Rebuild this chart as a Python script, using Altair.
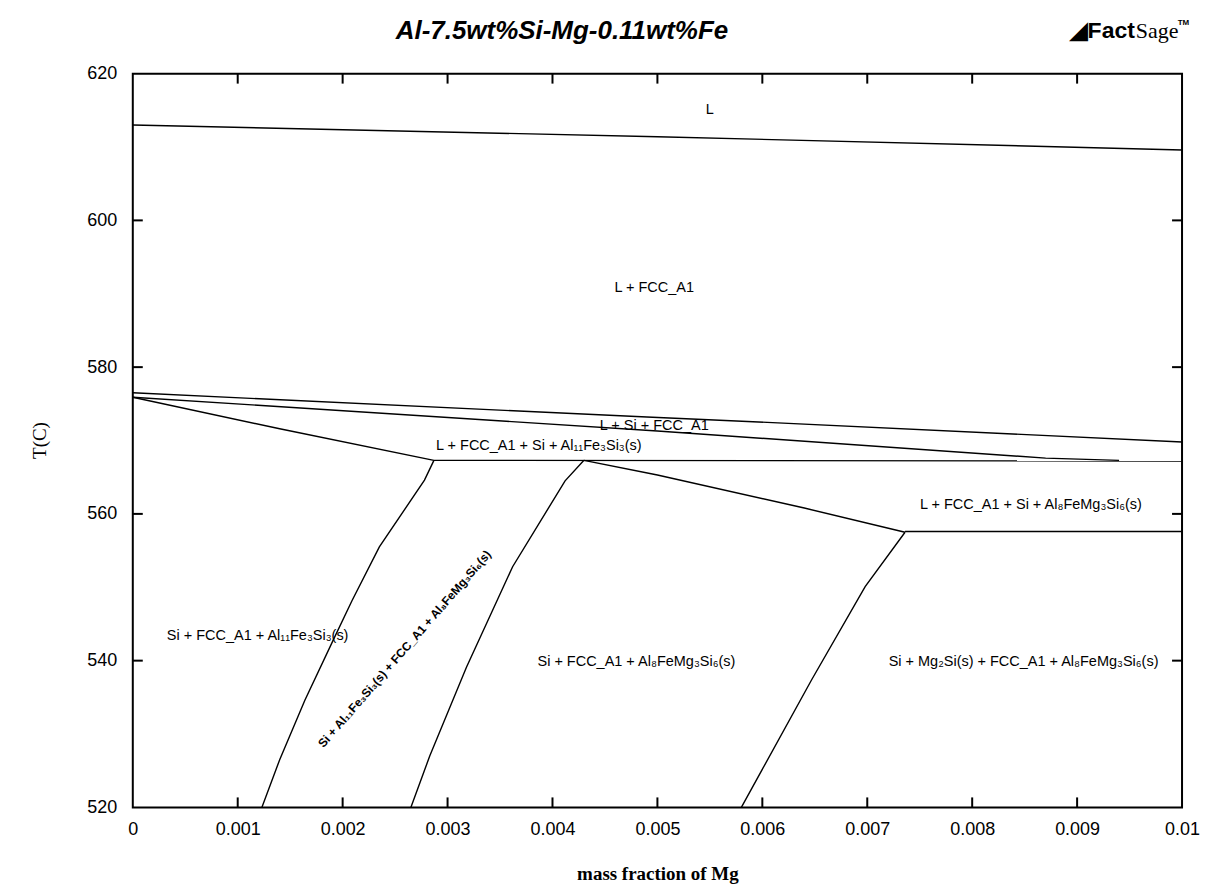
import altair as alt
import pandas as pd

# ---- boundary lines (mass fraction of Mg, T in C) ----
liq_x = [0.0, 0.005, 0.01]
liq_t = [613.0, 611.4, 609.6]

si_x = [0.0, 0.0049, 0.0057, 0.01]
si_t = [576.5, 573.2, 572.7, 569.8]

b2_x = [0.0, 0.005, 0.0087, 0.0094]
b2_t = [575.9, 571.3, 567.6, 567.3]

b3_x = [0.0, 0.0014, 0.00287]
b3_t = [575.9, 571.6, 567.3]

e1_x = [0.00287, 0.01]
e1_t = [567.3, 567.2]

b4_x = [0.0043, 0.005, 0.0064, 0.00736]
b4_t = [567.3, 565.3, 560.8, 557.5]

e2_x = [0.00736, 0.01]
e2_t = [557.6, 557.6]

c1_x = [0.00287, 0.00278, 0.00235, 0.00209, 0.00191, 0.00164, 0.0014, 0.00123]
c1_t = [567.3, 564.6, 555.5, 548.2, 542.8, 534.6, 526.5, 520.0]

c2_x = [0.0043, 0.00412, 0.00362, 0.00318, 0.00283, 0.00265]
c2_t = [567.3, 564.5, 552.8, 539.1, 527.0, 520.0]

c3_x = [0.00736, 0.00698, 0.00647, 0.0058]
c3_t = [557.5, 550.1, 537.4, 520.0]

# ---- region labels ----
lab_text = [
    "L",
    "L + FCC_A1",
    "L + Si + FCC_A1",
    "L + FCC_A1 + Si + Al\u2081\u2081Fe\u2083Si\u2083(s)",
    "L + FCC_A1 + Si + Al\u2088FeMg\u2083Si\u2086(s)",
    "Si + FCC_A1 + Al\u2081\u2081Fe\u2083Si\u2083(s)",
    "Si + FCC_A1 + Al\u2088FeMg\u2083Si\u2086(s)",
    "Si + Mg\u2082Si(s) + FCC_A1 + Al\u2088FeMg\u2083Si\u2086(s)",
]
lab_x = [0.0055, 0.00497, 0.00497, 0.00387, 0.00856, 0.00119, 0.0048, 0.00849]
lab_t = [615.0, 590.8, 572.0, 569.2, 561.2, 543.4, 539.8, 539.8]

rot_text = ["Si + Al\u2081\u2081Fe\u2083Si\u2083(s) + FCC_A1 + Al\u2088FeMg\u2083Si\u2086(s)"]
rot_x = [0.00259]
rot_t = [541.6]

# ---- title and logo ----
title_text = ["Al-7.5wt%Si-Mg-0.11wt%Fe"]
title_x = [0.00409]
title_t = [625.8]
logo_x = [0.00955]
logo_t = [625.8]

# ---- axes ----
x_ticks = [0.0, 0.001, 0.002, 0.003, 0.004, 0.005, 0.006, 0.007, 0.008, 0.009, 0.01]
y_ticks = [520, 540, 560, 580, 600, 620]
x_inner = x_ticks[1:-1]
y_inner = y_ticks[1:-1]

series = {
    "liquidus": (liq_x, liq_t), "si": (si_x, si_t), "b2": (b2_x, b2_t),
    "b3": (b3_x, b3_t), "e1": (e1_x, e1_t), "b4": (b4_x, b4_t),
    "e2": (e2_x, e2_t), "c1": (c1_x, c1_t), "c2": (c2_x, c2_t), "c3": (c3_x, c3_t),
}
rows = []
for name, (xs_, ts_) in series.items():
    for i, (xv, tv) in enumerate(zip(xs_, ts_)):
        rows.append({"series": name, "i": i, "x": xv, "T": tv})
df = pd.DataFrame(rows)
labels = pd.DataFrame({"label": lab_text, "x": lab_x, "T": lab_t})
rot = pd.DataFrame({"label": rot_text, "x": rot_x, "T": rot_t})
tdf = pd.DataFrame({"label": title_text, "x": title_x, "T": title_t})
logo_df = pd.DataFrame({"x": logo_x, "T": logo_t})
xt = pd.DataFrame({"x": x_inner})
yt = pd.DataFrame({"T": y_inner})

W, H = 1051, 735
xs = alt.Scale(domain=[0, 0.01], nice=False, zero=False)
ys = alt.Scale(domain=[520, 620], nice=False, zero=False)
SANS = "Liberation Sans"
SERIF = "Liberation Serif"

X = alt.X("x:Q", scale=xs, axis=alt.Axis(
    values=x_ticks, format="~g", ticks=False, domain=False, grid=False,
    labelFont=SANS, labelFontSize=18, labelColor="black", labelPadding=13,
    labelFlush=False,
    title="mass fraction of Mg", titleFont=SERIF, titleFontSize=19,
    titleFontWeight="bold", titleColor="black", titleY=66,
    titleBaseline="middle"))
Y = alt.Y("T:Q", scale=ys, axis=alt.Axis(
    values=y_ticks, ticks=False, domain=False, grid=False,
    labelFont=SANS, labelFontSize=18, labelColor="black", labelPadding=16,
    title="T(C)", titleFont=SERIF, titleFontSize=19, titleFontWeight="normal",
    titleColor="black", titleX=-93, titleY=367, titleAlign="center",
    titleBaseline="middle"))

lines = alt.Chart(df).mark_line(color="black", strokeWidth=1.4).encode(
    x=X, y=Y, detail="series:N", order="i:Q")

text = alt.Chart(labels).mark_text(font=SANS, fontSize=14.5, color="black").encode(
    x=X, y=Y, text="label:N")

rtext = alt.Chart(rot).mark_text(font=SANS, fontSize=12, fontWeight="bold",
                                  angle=311, color="black").encode(
    x=X, y=Y, text="label:N")

title = alt.Chart(tdf).mark_text(font=SANS, fontSize=26, fontStyle="italic",
                                  fontWeight="bold", color="black",
                                  baseline="middle").encode(
    x=X, y=Y, text="label:N")

tick_bottom = alt.Chart(xt).mark_rule(color="black", strokeWidth=2).encode(
    x=X, y=alt.value(H), y2=alt.value(H - 10))
tick_top = alt.Chart(xt).mark_rule(color="black", strokeWidth=2).encode(
    x=X, y=alt.value(0), y2=alt.value(10))
tick_left = alt.Chart(yt).mark_rule(color="black", strokeWidth=2).encode(
    y=Y, x=alt.value(0), x2=alt.value(10))
tick_right = alt.Chart(yt).mark_rule(color="black", strokeWidth=2).encode(
    y=Y, x=alt.value(W), x2=alt.value(W - 10))

logo1 = alt.Chart(logo_df).mark_text(font=SANS, fontSize=23, fontWeight="bold",
                                      align="right", baseline="middle", color="black").encode(
    x=X, y=Y, text=alt.value("\u25E2Fact"))
logo2 = alt.Chart(logo_df).mark_text(font=SERIF, fontSize=22, align="left",
                                      baseline="middle", color="black", dx=1).encode(
    x=X, y=Y, text=alt.value("Sage"))
logo3 = alt.Chart(logo_df).mark_text(font=SANS, fontSize=8, fontWeight="bold",
                                      align="left", baseline="middle", color="black",
                                      dx=43, dy=-8).encode(
    x=X, y=Y, text=alt.value("TM"))

chart = alt.layer(
    lines, text, rtext, title, tick_bottom, tick_top, tick_left, tick_right,
    logo1, logo2, logo3
).properties(
    width=W, height=H,
    autosize=alt.AutoSizeParams(type="none"),
    padding={"left": 125, "top": 65, "right": 20, "bottom": 83},
).configure_view(stroke="black", strokeWidth=2)

chart.save("out.html", embed_options={"renderer": "svg", "actions": False})
